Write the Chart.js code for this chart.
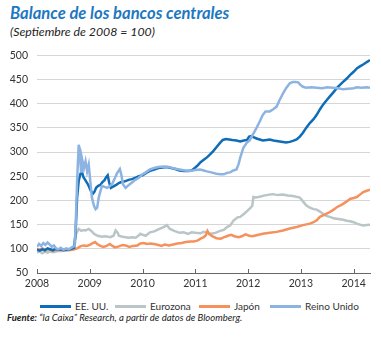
<!DOCTYPE html>
<html>
<head>
<meta charset="utf-8">
<script src="https://cdn.jsdelivr.net/npm/chart.js@4"></script>
<style>
  body { margin: 0; background: #fff; }
  #wrap { position: relative; width: 381px; height: 338px; font-family: Lato, "Open Sans", sans-serif; color: #222; }
  #title { position: absolute; left: 10px; top: 3px; font-size: 16.6px; font-weight: bold; font-style: italic; color: #1d78c1; white-space: nowrap; }
  #subtitle { position: absolute; left: 10px; top: 24px; font-size: 12.3px; font-style: italic; white-space: nowrap; }
  #chart { position: absolute; left: 0; top: 40px; }
  .key { position: absolute; top: 300px; font-size: 10px; color: #333; white-space: nowrap; }
  .key i { display: inline-block; width: 31px; height: 3px; vertical-align: middle; margin-right: 4px; margin-top: -2px; }
  #source { position: absolute; left: 7px; top: 312px; font-size: 9.5px; font-style: italic; white-space: nowrap; }
</style>
</head>
<body>
<div id="wrap">
  <div id="title">Balance de los bancos centrales</div>
  <div id="subtitle">(Septiembre de 2008 = 100)</div>
  <canvas id="chart" width="381" height="252"></canvas>
  <div id="legend"></div>
  <div id="source"><b>Fuente:</b> “la Caixa” Research, a partir de datos de Bloomberg.</div>
</div>
<script>
const seriesNames = ["EE. UU.", "Eurozona", "Japón", "Reino Unido"];
const seriesColors = ["#0f6cb6", "#b9c5c6", "#f4915c", "#8db3e2"];
const yearTicks = [2008, 2009, 2010, 2011, 2012, 2013, 2014];

// EE. UU.
const usYears = [2008.00,2008.05,2008.10,2008.15,2008.20,2008.25,2008.30,2008.35,2008.40,2008.45,2008.50,2008.55,2008.60,2008.65,2008.70,2008.73,2008.76,2008.79,2008.82,2008.85,2008.88,2008.91,2008.95,2008.98,2009.02,2009.06,2009.09,2009.12,2009.16,2009.20,2009.24,2009.28,2009.31,2009.34,2009.37,2009.40,2009.45,2009.50,2009.55,2009.60,2009.65,2009.70,2009.75,2009.80,2009.87,2009.93,2010.00,2010.07,2010.14,2010.22,2010.30,2010.38,2010.46,2010.54,2010.62,2010.70,2010.78,2010.86,2010.93,2011.00,2011.05,2011.10,2011.16,2011.22,2011.28,2011.34,2011.40,2011.46,2011.52,2011.58,2011.64,2011.70,2011.78,2011.85,2011.92,2011.98,2012.02,2012.06,2012.10,2012.16,2012.22,2012.28,2012.35,2012.41,2012.48,2012.54,2012.60,2012.66,2012.72,2012.79,2012.85,2012.92,2012.98,2013.04,2013.10,2013.17,2013.24,2013.30,2013.36,2013.42,2013.48,2013.55,2013.62,2013.68,2013.74,2013.80,2013.87,2013.93,2014.00,2014.06,2014.12,2014.18,2014.25,2014.31];
const usValues = [98,96,99,97,101,99,97,100,98,99,97,99,98,100,102,130,206,240,254,260,248,243,236,230,220,214,218,226,230,232,238,242,248,252,236,226,229,232,236,238,239,241,243,244,247,250,252,257,261,264,267,268,269,267,265,262,261,261,262,268,273,279,284,289,295,302,310,318,325,327,326,325,324,322,324,325,332,333,331,328,326,324,325,326,324,323,322,321,320,321,323,326,332,340,350,360,368,377,388,398,406,415,424,432,439,445,452,459,466,473,477,481,486,490];

// Eurozona
const ezYears = [2008.00,2008.05,2008.10,2008.15,2008.20,2008.25,2008.30,2008.35,2008.40,2008.45,2008.50,2008.55,2008.60,2008.66,2008.71,2008.74,2008.79,2008.84,2008.88,2008.92,2008.98,2009.04,2009.08,2009.15,2009.23,2009.30,2009.39,2009.45,2009.49,2009.53,2009.55,2009.62,2009.68,2009.74,2009.80,2009.87,2009.93,2009.96,2010.00,2010.06,2010.14,2010.22,2010.30,2010.40,2010.46,2010.52,2010.60,2010.70,2010.78,2010.86,2010.93,2011.00,2011.09,2011.16,2011.22,2011.30,2011.38,2011.47,2011.54,2011.60,2011.66,2011.72,2011.80,2011.85,2011.92,2011.98,2012.04,2012.08,2012.10,2012.14,2012.20,2012.30,2012.40,2012.47,2012.56,2012.66,2012.75,2012.85,2012.98,2013.04,2013.10,2013.17,2013.24,2013.30,2013.36,2013.42,2013.48,2013.55,2013.62,2013.68,2013.74,2013.80,2013.87,2013.93,2014.00,2014.06,2014.12,2014.18,2014.25,2014.31];
const ezValues = [92,95,91,94,92,95,93,94,96,95,97,96,98,99,101,131,141,137,139,138,141,136,131,127,125,126,124,127,138,133,127,125,124,123,124,123,128,131,129,127,134,136,140,145,149,141,137,133,134,131,134,133,132,135,134,131,133,137,139,145,148,158,165,166,172,178,184,189,207,206,207,210,212,213,211,212,210,209,206,198,190,185,182,181,177,172,168,166,163,162,161,160,158,157,155,152,150,148,149,150];

// Japón
const jpYears = [2008.00,2008.05,2008.10,2008.15,2008.20,2008.25,2008.30,2008.35,2008.40,2008.45,2008.50,2008.55,2008.60,2008.66,2008.71,2008.76,2008.82,2008.88,2008.94,2009.00,2009.06,2009.10,2009.14,2009.20,2009.26,2009.32,2009.38,2009.43,2009.48,2009.55,2009.62,2009.68,2009.75,2009.82,2009.90,2009.96,2010.02,2010.08,2010.15,2010.22,2010.30,2010.36,2010.42,2010.50,2010.58,2010.66,2010.74,2010.82,2010.90,2010.97,2011.04,2011.10,2011.16,2011.20,2011.23,2011.26,2011.32,2011.40,2011.48,2011.55,2011.62,2011.68,2011.74,2011.82,2011.88,2011.95,2012.02,2012.08,2012.16,2012.28,2012.41,2012.54,2012.66,2012.79,2012.92,2013.04,2013.17,2013.24,2013.30,2013.36,2013.42,2013.48,2013.55,2013.62,2013.68,2013.74,2013.80,2013.87,2013.93,2014.00,2014.06,2014.12,2014.18,2014.25,2014.31];
const jpValues = [100,98,101,97,99,98,96,98,97,99,96,98,97,98,99,101,105,107,106,108,112,114,110,106,104,106,110,106,103,105,108,107,104,106,107,111,112,110,111,110,108,106,109,107,109,111,112,114,115,115,117,121,124,128,137,131,126,122,121,124,127,129,126,124,126,130,127,126,128,131,133,135,138,142,145,149,152,155,159,166,169,172,176,181,186,189,193,198,203,205,207,212,217,220,222];

// Reino Unido
const ukYears = [2008.00,2008.04,2008.08,2008.12,2008.16,2008.20,2008.24,2008.28,2008.32,2008.36,2008.40,2008.45,2008.50,2008.55,2008.60,2008.66,2008.71,2008.73,2008.76,2008.79,2008.81,2008.835,2008.85,2008.89,2008.92,2008.95,2008.98,2009.01,2009.04,2009.08,2009.11,2009.14,2009.17,2009.23,2009.28,2009.33,2009.38,2009.42,2009.47,2009.52,2009.57,2009.60,2009.63,2009.68,2009.74,2009.80,2009.87,2009.93,2010.00,2010.06,2010.14,2010.22,2010.30,2010.40,2010.50,2010.60,2010.70,2010.80,2010.90,2011.00,2011.09,2011.16,2011.22,2011.30,2011.40,2011.47,2011.54,2011.60,2011.66,2011.72,2011.78,2011.82,2011.85,2011.91,2011.98,2012.03,2012.10,2012.16,2012.22,2012.28,2012.33,2012.41,2012.47,2012.54,2012.60,2012.66,2012.72,2012.79,2012.85,2012.90,2012.95,2013.00,2013.04,2013.10,2013.20,2013.30,2013.40,2013.50,2013.60,2013.70,2013.80,2013.90,2014.00,2014.06,2014.15,2014.25,2014.31];
const ukValues = [104,110,106,112,108,113,109,104,107,101,99,102,98,101,99,103,106,138,240,315,301,260,288,267,281,260,274,240,206,189,182,185,206,230,228,226,230,233,245,257,265,252,233,226,232,237,243,247,254,258,264,267,269,270,269,266,264,262,261,263,264,262,260,258,255,254,254,257,258,262,264,275,288,309,320,324,338,350,363,377,384,384,388,394,408,421,432,442,445,445,444,438,435,433,434,433,432,434,433,432,430,431,432,434,433,434,433];

const toPoints = (xs, ys) => xs.map((x, i) => ({ x: x, y: ys[i] }));
const seriesPoints = [
  toPoints(usYears, usValues),
  toPoints(ezYears, ezValues),
  toPoints(jpYears, jpValues),
  toPoints(ukYears, ukValues)
];

// small year ticks pointing up from the axis line
const innerTicks = {
  id: 'innerTicks',
  afterDraw(chart) {
    const ctx = chart.ctx;
    const x = chart.scales.x;
    const bottom = chart.chartArea.bottom;
    ctx.save();
    ctx.strokeStyle = '#666';
    ctx.lineWidth = 1;
    yearTicks.forEach(y => {
      const px = Math.round(x.getPixelForValue(y)) + 0.5;
      ctx.beginPath();
      ctx.moveTo(px, bottom);
      ctx.lineTo(px, bottom - 4);
      ctx.stroke();
    });
    ctx.restore();
  }
};

new Chart("chart", {
  type: "line",
  data: {
    datasets: seriesNames.map((name, i) => ({
      label: name,
      data: seriesPoints[i],
      borderColor: seriesColors[i],
      backgroundColor: seriesColors[i],
      borderWidth: 2.5,
      pointRadius: 0,
      tension: 0,
      order: [1, 3, 2, 0][i]
    }))
  },
  options: {
    responsive: false,
    animation: false,
    layout: { padding: { top: 7, right: 11, left: 0, bottom: 0 } },
    plugins: { legend: { display: false }, tooltip: { enabled: false } },
    scales: {
      x: {
        type: "linear",
        min: 2008,
        max: 2014.31,
        afterBuildTicks: s => { s.ticks = yearTicks.map(v => ({ value: v })); },
        afterFit: s => { s.height = 19; },
        ticks: { color: "#333", font: { family: "Lato", size: 10.5 }, padding: 4, maxRotation: 0, callback: v => String(v) },
        grid: { drawOnChartArea: false, drawTicks: false },
        border: { display: true, color: "#666", width: 1 }
      },
      y: {
        min: 50,
        max: 500,
        afterFit: s => { s.width = 37; },
        ticks: { stepSize: 50, color: "#333", font: { family: "Lato", size: 10.5 }, padding: 9 },
        grid: { color: "#d6d6d6", lineWidth: 1, drawTicks: false },
        border: { display: false }
      }
    }
  },
  plugins: [innerTicks]
});

// legend row under the chart
const legendX = [40, 115, 199, 270];
const legend = document.getElementById('legend');
seriesNames.forEach((name, i) => {
  const d = document.createElement('div');
  d.className = 'key';
  d.style.left = legendX[i] + 'px';
  d.innerHTML = '<i style="background:' + seriesColors[i] + '"></i>' + name;
  legend.appendChild(d);
});
</script>
</body>
</html>
